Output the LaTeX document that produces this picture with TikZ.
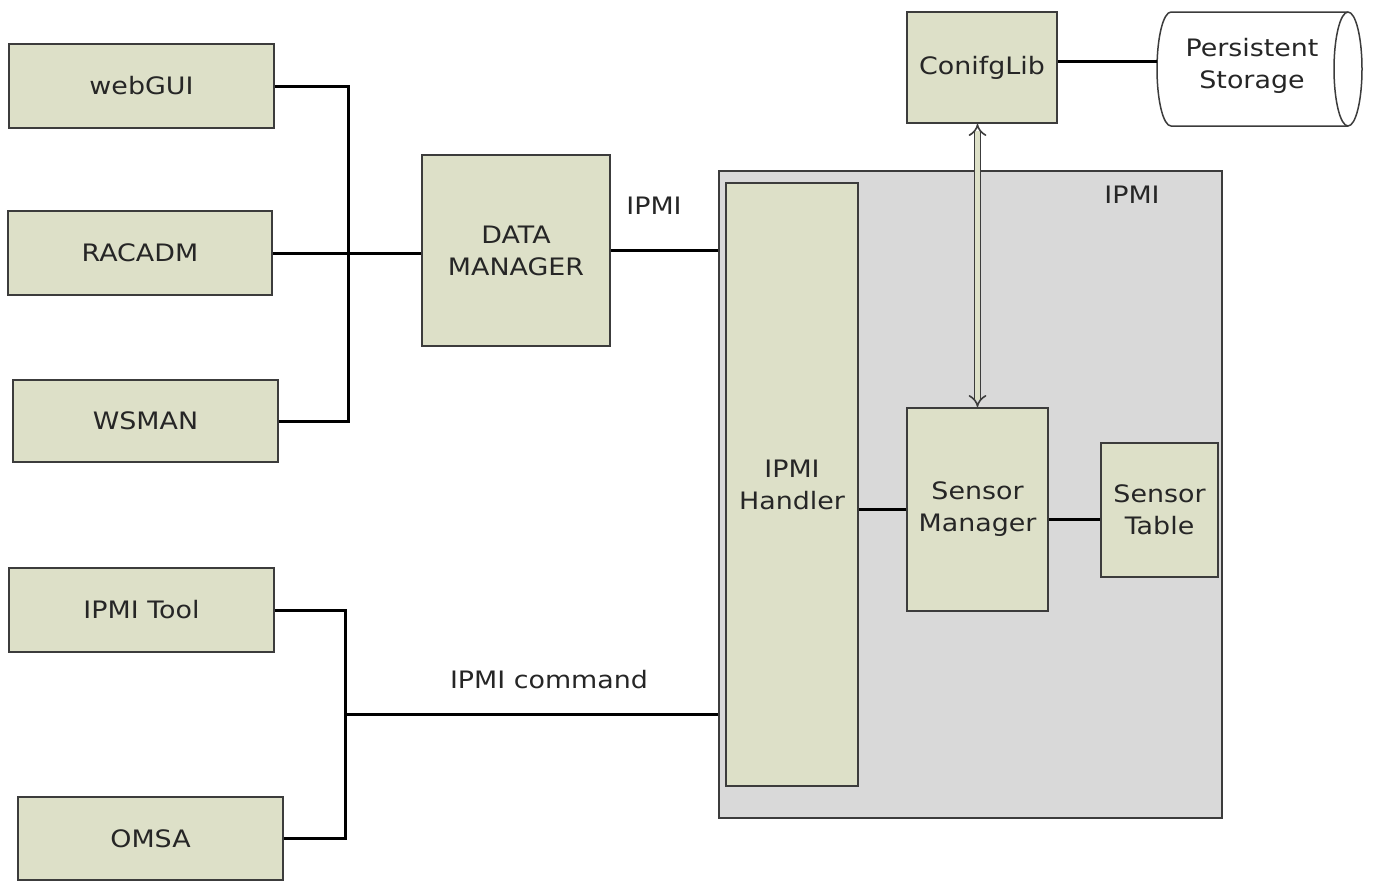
\documentclass[tikz,border=0pt]{standalone}
\usepackage{fontspec}
\setmainfont{DejaVu Sans}[FakeStretch=1.12]
\usetikzlibrary{arrows.meta,arrows}
\definecolor{boxfill}{RGB}{221,224,200}
\definecolor{contfill}{RGB}{217,217,217}
\definecolor{edge}{RGB}{60,60,60}
\tikzset{
  blk/.style={draw=edge, line width=2pt, fill=boxfill, inner sep=0pt, align=center,
    font=\fontsize{24}{32}\selectfont, text=black!85},
  conn/.style={draw=black, line width=3pt},
  lbl/.style={font=\fontsize{24}{32}\selectfont, text=black!85, inner sep=0pt},
}
\begin{document}
\begin{tikzpicture}[x=1pt,y=-1pt]
\useasboundingbox[fill=white] (0,0) rectangle (1373,881);
% container
\node[draw=edge, line width=2pt, fill=contfill, minimum width=503pt, minimum height=647pt, inner sep=0pt] (cont) at (970.5,494.5) {};
\node[lbl] (ipmilbl) at (1132,195) {IPMI};
% left boxes
\node[blk, minimum width=265pt, minimum height=84pt] (webgui) at (141.5,86) {webGUI};
\node[blk, minimum width=264pt, minimum height=84pt] (racadm) at (140,253) {RACADM};
\node[blk, minimum width=265pt, minimum height=82pt] (wsman) at (145.5,421) {WSMAN};
\node[blk, minimum width=265pt, minimum height=84pt] (ipmitool) at (141.5,610) {IPMI Tool};
\node[blk, minimum width=265pt, minimum height=83pt] (omsa) at (150.5,838.5) {OMSA};
\node[blk, minimum width=188pt, minimum height=191pt] (dm) at (516,250.5) {DATA\\MANAGER};
% inside container
\node[blk, minimum width=132pt, minimum height=603pt] (handler) at (792,484.5) {IPMI\\Handler};
\node[blk, minimum width=141pt, minimum height=203pt] (sm) at (977.5,509.5) {Sensor\\Manager};
\node[blk, minimum width=117pt, minimum height=134pt] (st) at (1159.5,510) {Sensor\\Table};
% top
\node[blk, minimum width=150pt, minimum height=111pt] (conf) at (982,67.5) {ConifgLib};
% persistent storage cylinder
\draw[draw=edge, line width=1.5pt, fill=white]
  (1171,12) -- (1348,12)
  .. controls (1355.7,12) and (1362,37.5) .. (1362,69)
  .. controls (1362,100.5) and (1355.7,126) .. (1348,126)
  -- (1171,126)
  .. controls (1163.3,126) and (1157,100.5) .. (1157,69)
  .. controls (1157,37.5) and (1163.3,12) .. (1171,12) -- cycle;
\draw[draw=edge, line width=1.5pt]
  (1348,12) .. controls (1340.3,12) and (1334,37.5) .. (1334,69)
  .. controls (1334,100.5) and (1340.3,126) .. (1348,126);
\node[inner sep=0pt, minimum width=205pt, minimum height=114pt, align=center,
  font=\fontsize{24}{32}\selectfont, text=black!85] (ps) at (1259.5,69) {};
\node[lbl, align=center] (pstext) at (1252,66) {Persistent\\Storage};
% connectors
\coordinate (b1) at (348,253);
\draw[conn] (webgui.east) -| (b1) |- (wsman.east);
\draw[conn] (racadm.east) -- (racadm.east -| dm.west);
\draw[conn] (dm.east) -- (dm.east -| cont.west);
\node[lbl] (ipmitop) at (654,206) {IPMI};
\coordinate (b2) at (345,714);
\draw[conn] (ipmitool.east) -| (b2) |- (omsa.east);
\draw[conn] (b2) -- (b2 -| cont.west);
\node[lbl] (cmdlbl) at (549,680) {IPMI command};
\draw[conn] (handler.east |- sm.west) -- (sm.west);
\draw[conn] (sm.east |- 0,519) -- (st.west |- 0,519);
\draw[conn] (conf.east |- 0,61) -- (ps.west |- 0,61);
\draw[draw=edge, line width=1.6pt, double=boxfill, double distance=4.5pt, {Implies}-{Implies}]
  (conf.south -| sm.north) -- (sm.north);
\end{tikzpicture}
\end{document}
